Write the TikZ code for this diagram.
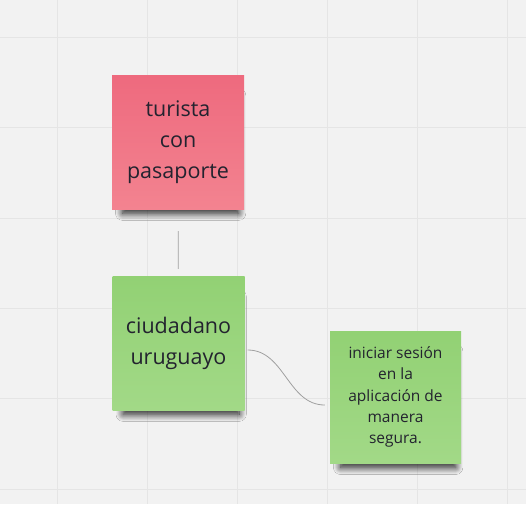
\documentclass[tikz,border=0pt]{standalone}
\usepackage{fontspec}
\setmainfont{Open Sans}
\usepackage{xcolor}
\usepackage{tikz}
\usetikzlibrary{shadows.blur,positioning,calc}

\definecolor{boardbg}{HTML}{F2F2F2}
\definecolor{gridln}{HTML}{E5E5E5}
\definecolor{pinktop}{HTML}{EE6A7E}
\definecolor{pinkbot}{HTML}{F38390}
\definecolor{greentop}{HTML}{92D174}
\definecolor{greenbot}{HTML}{A2D987}
\definecolor{inkc}{HTML}{23232F}
\definecolor{linkc}{HTML}{A0A0A0}

\begin{document}
\begin{tikzpicture}[x=1pt, y=1pt,
  note/.style={minimum width=132pt, minimum height=134pt, align=center, text=inkc,
    blur shadow={shadow xshift=3pt, shadow yshift=-14pt, shadow scale=0.88,
      shadow opacity=90, shadow blur radius=8pt, shadow blur steps=16}},
  pinknote/.style={note, top color=pinktop, bottom color=pinkbot,
    font=\fontsize{21.5}{31}\selectfont},
  greennote/.style={note, top color=greentop, bottom color=greenbot,
    font=\fontsize{21.5}{31}\selectfont},
  smallnote/.style={note, top color=greentop, bottom color=greenbot,
    minimum width=131pt, minimum height=132pt,
    font=\fontsize{15.5}{21.3}\selectfont},
  link/.style={draw=linkc, line width=0.8pt}]
\fill[boardbg] (0,0) rectangle (526,-504);
\useasboundingbox (0,0) rectangle (526,-504);
% grid
\foreach \gx in {57,147,237,327,417,507}
  \draw[gridln, line width=0.8pt] (\gx,0) -- (\gx,-504);
\foreach \gy in {37,127,218,308,398,489}
  \draw[gridln, line width=0.8pt] (0,-\gy) -- (526,-\gy);

\node[pinknote] (turista) at (178,-142) {turista\\con\\pasaporte};
\node[greennote] (ciudadano) at (178.5,-343) {ciudadano\\uruguayo};
\node[smallnote] (sesion) at (395.5,-397) {iniciar sesión\\en la\\aplicación de\\manera\\segura.};

\draw[link, shorten <=22pt, shorten >=7pt] (turista) -- (ciudadano);
\draw[link] ([xshift=3pt,yshift=-7pt]ciudadano.east) to[out=0, in=180]
  ([xshift=-5pt,yshift=-8pt]sesion.west);
\end{tikzpicture}
\end{document}
